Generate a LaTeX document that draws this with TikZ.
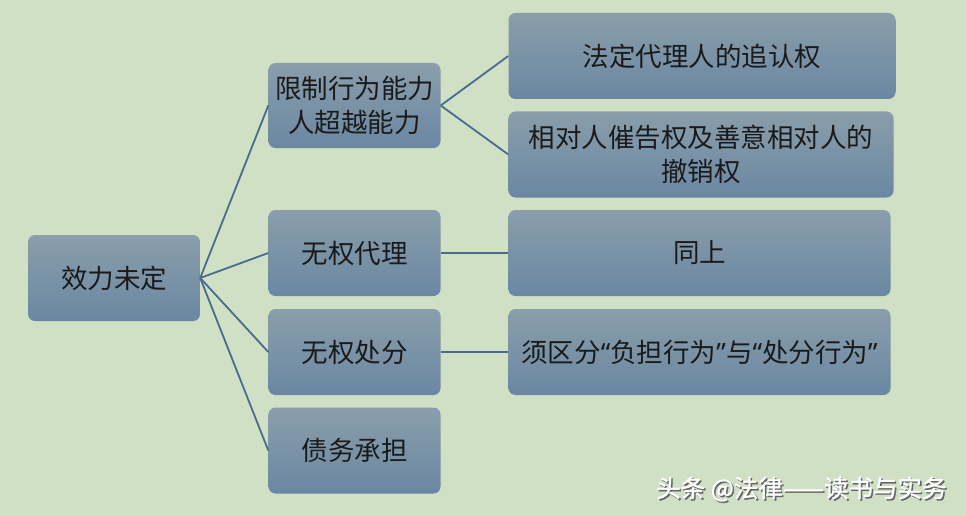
\documentclass[tikz,border=0pt]{standalone}
\usepackage{fontspec}
\newfontfamily\cjk{Noto Sans CJK SC}
\newfontfamily\cjkwm[FakeBold=1.2]{Noto Sans CJK SC}
\newfontfamily\latq{Noto Sans}
\definecolor{bgc}{HTML}{CFE0C5}
\definecolor{boxtop}{HTML}{8A9EAB}
\definecolor{boxbot}{HTML}{6A87A2}
\definecolor{linec}{HTML}{4A6A8E}
\definecolor{txtc}{HTML}{1A1A1A}
\tikzset{
  box/.style={draw=none, rounded corners=7pt, top color=boxtop, bottom color=boxbot,
    text=txtc, align=center, inner sep=0pt,
    font=\cjk\fontsize{26.5}{34}\selectfont},
  conn/.style={draw=linec, line width=1.8pt}
}
\newcommand{\myLq}{{\latq “}}
\newcommand{\myRq}{{\latq ”}}
\begin{document}
\begin{tikzpicture}[x=1pt,y=-1pt]
\fill[bgc] (0,0) rectangle (966,516);
\useasboundingbox (0,0) rectangle (966,516);
\node[box, minimum width=172pt, minimum height=86pt] (root) at (114,278) {效力未定};
\node[box, minimum width=172pt, minimum height=85pt] (a) at (354.5,105.5) {限制行为能力\\人超越能力};
\node[box, minimum width=172pt, minimum height=86pt] (b) at (354.5,253) {无权代理};
\node[box, minimum width=172pt, minimum height=86pt] (c) at (354.5,352) {无权处分};
\node[box, minimum width=172pt, minimum height=86pt] (d) at (354.5,450.5) {债务承担};
\node[box, minimum width=387pt, minimum height=86pt] (a1) at (702,56) {法定代理人的追认权};
\node[box, minimum width=385pt, minimum height=86pt] (a2) at (701,154.5) {相对人催告权及善意相对人的\\撤销权};
\node[box, minimum width=382pt, minimum height=86pt] (b1) at (699.5,253) {同上};
\node[box, minimum width=382pt, minimum height=86pt] (c1) at (699.5,352) {须区分\myLq 负担行为\myRq 与\myLq 处分行为\myRq};
\draw[conn] (root.east) -- (a.west);
\draw[conn] (root.east) -- (b.west);
\draw[conn] (root.east) -- (c.west);
\draw[conn] (root.east) -- (d.west);
\draw[conn] (a.east) -- (a1.west);
\draw[conn] (a.east) -- (a2.west);
\draw[conn] (b.east) -- (b1.west);
\draw[conn] (c.east) -- (c1.west);
\node[text=black!60, font=\cjkwm\fontsize{24.5}{28}\selectfont, anchor=east] at (951.5,490.5) {头条 @法律——读书与实务};
\node[text=white, font=\cjkwm\fontsize{24.5}{28}\selectfont, anchor=east] (wm) at (950,489) {头条 @法律——读书与实务};
\end{tikzpicture}
\end{document}
